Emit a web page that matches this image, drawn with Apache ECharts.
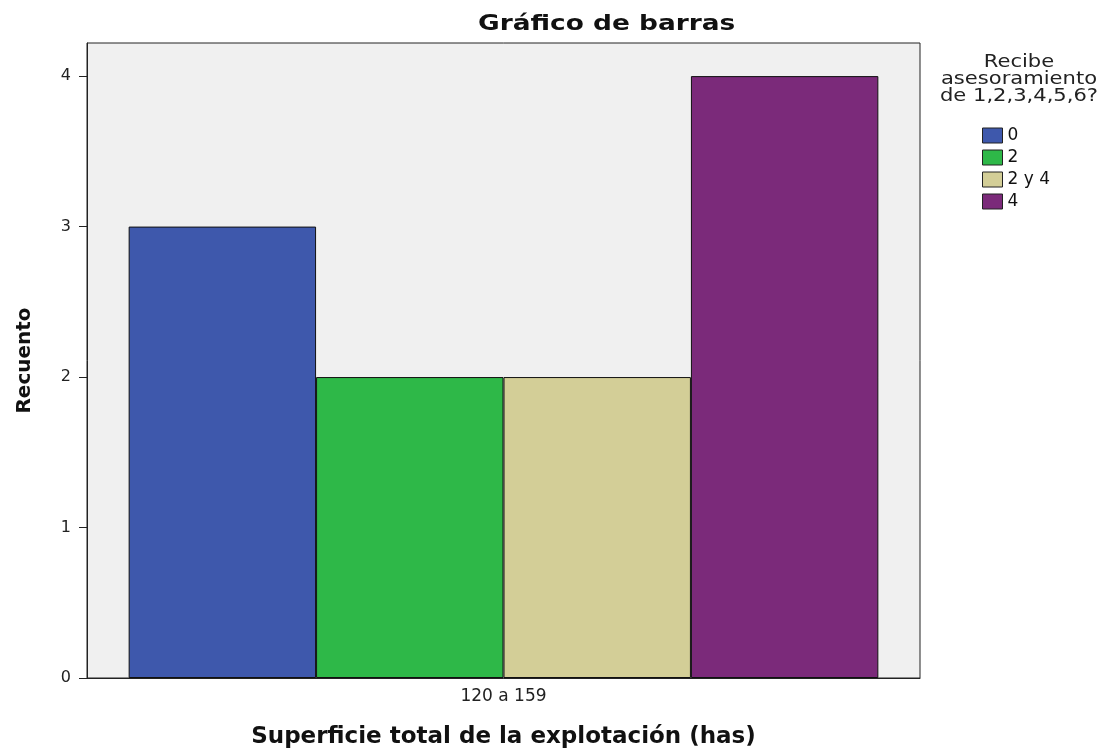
<!DOCTYPE html>
<html>
<head>
<meta charset="utf-8">
<script src="https://cdn.jsdelivr.net/npm/echarts@6/dist/echarts.min.js"></script>
<style>
  html, body { margin: 0; padding: 0; background: #fff; }
  #chart { width: 1112px; height: 756px; }
</style>
</head>
<body>
<div id="chart"></div>
<script>
const categories = ['120 a 159'];
const seriesNames = ['0', '2', '2 y 4', '4'];
const seriesValues = [[3], [2], [2], [4]];
const seriesColors = ['#3e58ac', '#2eb848', '#d3ce97', '#7b2a7a'];
const yTicks = [0, 1, 2, 3, 4];

const chart = echarts.init(document.getElementById('chart'));

const series = seriesNames.map((name, i) => ({
  name: name,
  type: 'bar',
  data: seriesValues[i],
  barGap: '0%',
  barCategoryGap: '10%',
  itemStyle: {
    color: seriesColors[i],
    borderColor: '#111',
    borderWidth: 1
  }
}));

chart.setOption({
  animation: false,
  legend: {
    orient: 'vertical',
    left: 977,
    top: 122,
    icon: 'rect',
    itemWidth: 20,
    itemHeight: 15,
    itemGap: 5,
    data: seriesNames,
    itemStyle: { borderColor: '#222', borderWidth: 1 },
    textStyle: { fontFamily: 'DejaVu Sans', fontSize: 17, color: '#111' }
  },
  graphic: [{
    // chart title, slightly widened like the original
    type: 'text',
    x: 478,
    y: 13,
    scaleX: 1.2,
    style: {
      text: 'Gráfico de barras',
      x: 0,
      y: 0,
      font: 'bold 22px "DejaVu Sans"',
      fill: '#111'
    }
  }, {
    // legend heading
    type: 'text',
    x: 1019,
    y: 54,
    scaleX: 1.17,
    style: {
      text: 'Recibe\nasesoramiento\nde 1,2,3,4,5,6?',
      x: 0,
      y: 0,
      textAlign: 'center',
      font: '18px "DejaVu Sans"',
      lineHeight: 17,
      fill: '#222'
    }
  }],
  grid: {
    left: 87,
    right: 192,
    top: 43,
    bottom: 78,
    outerBoundsMode: 'none',
    containLabel: false,
    show: true,
    backgroundColor: '#f0f0f0',
    borderColor: '#222',
    borderWidth: 1
  },
  xAxis: {
    type: 'category',
    data: categories,
    name: 'Superficie total de la explotación (has)',
    nameLocation: 'middle',
    nameGap: 48,
    nameTextStyle: { fontFamily: 'DejaVu Sans', fontWeight: 'bold', fontSize: 23, color: '#111' },
    axisLine: { lineStyle: { color: '#222', width: 1 } },
    axisTick: { alignWithLabel: true, length: 8, lineStyle: { color: '#222' } },
    axisLabel: { fontFamily: 'DejaVu Sans', fontSize: 17, color: '#222', margin: 10 }
  },
  yAxis: {
    type: 'value',
    min: 0,
    max: 4.22,
    interval: 1,
    name: 'Recuento',
    nameLocation: 'middle',
    nameGap: 52,
    nameTextStyle: { fontFamily: 'DejaVu Sans', fontWeight: 'bold', fontSize: 20, color: '#111' },
    axisLine: { show: true, lineStyle: { color: '#222', width: 1 } },
    axisTick: { show: true, length: 8, customValues: yTicks, lineStyle: { color: '#222' } },
    axisLabel: { customValues: yTicks, fontFamily: 'DejaVu Sans', fontSize: 16, color: '#222', margin: 16 },
    splitLine: { show: false }
  },
  series: series
});
</script>
</body>
</html>
